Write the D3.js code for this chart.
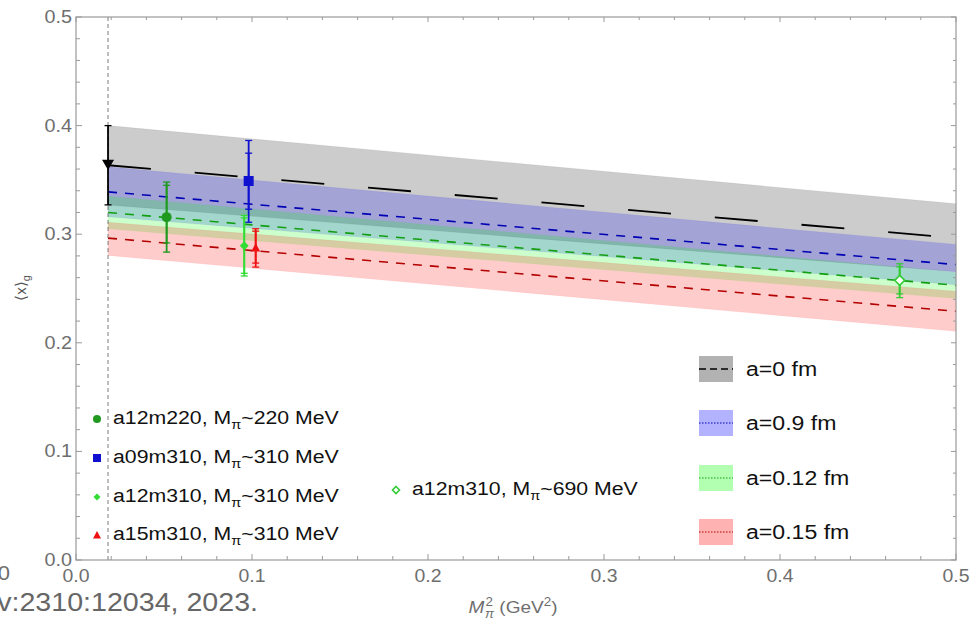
<!DOCTYPE html>
<html>
<head>
<meta charset="utf-8">
<script src="https://cdn.jsdelivr.net/npm/d3@7"></script>
<style>
  html, body { margin: 0; padding: 0; background: #fff; }
  svg { display: block; font-family: "Liberation Sans", Arial, sans-serif; }
</style>
</head>
<body>
<svg id="chart" width="970" height="620"></svg>
<script>
// ---- data ----
const bandX = [0.0182, 0.5];                       // physical pion mass^2 to right edge
const bandNames = ["a=0 fm", "a=0.9 fm", "a=0.12 fm", "a=0.15 fm"];
const bandCenter = [[0.3635, 0.2965], [0.339, 0.272], [0.320, 0.2529], [0.2964, 0.229]];
const bandLower  = [[0.327, 0.2655], [0.316, 0.2534], [0.305, 0.2407], [0.2805, 0.2106]];
const bandUpper  = [[0.400, 0.328], [0.362, 0.2906], [0.335, 0.265], [0.311, 0.2475]];
const bandFill   = ["#000000", "#0000ff", "#00ff00", "#ff0000"];
const bandLine   = ["#000000", "#0000b4", "#12a012", "#b40000"];

const physX = 0.0182, physY = 0.3635, physErr = [0.327, 0.400];

const pointNames = ["a12m220", "a09m310", "a12m310", "a15m310", "a12m310"];
const pointMass  = ["220", "310", "310", "310", "690"];
const pointX = [0.0515, 0.0981, 0.0956, 0.1021, 0.468];
const pointY = [0.3157, 0.349, 0.2894, 0.2876, 0.2575];
const errOuter = [[0.2835, 0.348], [0.311, 0.3863], [0.2615, 0.3173], [0.2697, 0.305], [0.2416, 0.2728]];
const errInner = [[0.292, 0.345], [0.323, 0.3746], [0.264, 0.315], [0.2734, 0.3028], [0.245, 0.270]];
const pointColor = ["#1f9a1f", "#1010d0", "#33dd33", "#ee1111", "#33cc33"];
const pointShape = ["circle", "square", "diamond", "triangle", "openDiamond"];

const xTicks = [0, 0.1, 0.2, 0.3, 0.4, 0.5];
const xTickLabels = ["0.0", "0.1", "0.2", "0.3", "0.4", "0.5"];
const yTicks = [0, 0.1, 0.2, 0.3, 0.4, 0.5];
const yTickLabels = ["0.0", "0.1", "0.2", "0.3", "0.4", "0.5"];

// ---- layout ----
const svg = d3.select("#chart");
const L = 76, R = 956, T = 17, B = 560;
const x = d3.scaleLinear().domain([0, 0.5]).range([L, R]);
const y = d3.scaleLinear().domain([0, 0.5]).range([B, T]);
const frameColor = "#9a9a9a", tickText = "#6e6e6e";
const WIDE = 1.12;   // text is set slightly wide

// text placed at (tx, ty) and widened horizontally about its anchor
function wideText(parent, tx, ty, sx) {
  return parent.append("text").attr("transform", `translate(${tx},${ty}) scale(${sx},1)`);
}

// bands
const area = d3.area().x(d => x(d[0])).y0(d => y(d[1])).y1(d => y(d[2]));
bandNames.forEach((n, i) => {
  const pts = bandX.map((bx, j) => [bx, bandLower[i][j], bandUpper[i][j]]);
  svg.append("path").attr("d", area(pts))
    .attr("fill", bandFill[i]).attr("fill-opacity", 0.2)
    .attr("stroke", bandFill[i]).attr("stroke-opacity", 0.06).attr("stroke-width", 1);
});

// central lines
const line = d3.line().x(d => x(d[0])).y(d => y(d[1]));
bandNames.forEach((n, i) => {
  const pts = bandX.map((bx, j) => [bx, bandCenter[i][j]]);
  svg.append("path").attr("d", line(pts)).attr("fill", "none")
    .attr("stroke", bandLine[i]).attr("stroke-width", i === 0 ? 1.8 : 1.6)
    .attr("stroke-dasharray", i === 0 ? "43,44" : "9,8");
});

// physical point vertical guide
svg.append("line").attr("x1", x(physX)).attr("x2", x(physX)).attr("y1", T).attr("y2", B)
  .attr("stroke", "#7a7a7a").attr("stroke-width", 1).attr("stroke-dasharray", "4,3");

// frame and ticks
svg.append("rect").attr("x", L).attr("y", T).attr("width", R - L).attr("height", B - T)
  .attr("fill", "none").attr("stroke", frameColor).attr("stroke-width", 1.2);

const xMinor = d3.range(0, 0.5001, 0.02);
const yMinor = d3.range(0, 0.5001, 0.02);
const tickG = svg.append("g").attr("stroke", frameColor).attr("stroke-width", 1);
xMinor.forEach(v => {
  const major = Math.abs(v * 10 - Math.round(v * 10)) < 1e-6;
  const len = major ? 6 : 4;
  tickG.append("line").attr("x1", x(v)).attr("x2", x(v)).attr("y1", B).attr("y2", B - len);
  tickG.append("line").attr("x1", x(v)).attr("x2", x(v)).attr("y1", T).attr("y2", T + len - 1);
});
yMinor.forEach(v => {
  const major = Math.abs(v * 10 - Math.round(v * 10)) < 1e-6;
  const len = major ? 6 : 4;
  tickG.append("line").attr("y1", y(v)).attr("y2", y(v)).attr("x1", L).attr("x2", L + len);
  tickG.append("line").attr("y1", y(v)).attr("y2", y(v)).attr("x1", R).attr("x2", R - len + 1);
});

// tick labels
xTicks.forEach((v, i) => {
  wideText(svg, x(v), 582, 1.08).attr("text-anchor", "middle")
    .attr("font-size", 18).attr("fill", tickText).text(xTickLabels[i]);
});
yTicks.forEach((v, i) => {
  wideText(svg, 72, y(v) + 6, 1.1).attr("text-anchor", "end")
    .attr("font-size", 18).attr("fill", tickText).text(yTickLabels[i]);
});

// axis titles
const xt = wideText(svg, 513, 613, WIDE).attr("text-anchor", "middle")
  .attr("font-size", 17).attr("fill", tickText);
xt.append("tspan").attr("font-style", "italic").text("M");
xt.append("tspan").attr("font-size", 12).attr("dy", -7).attr("dx", 1).text("2");
xt.append("tspan").attr("font-size", 12).attr("font-style", "italic").attr("dx", -7).attr("dy", 12).text("π");
xt.append("tspan").attr("dy", -5).text(" (GeV");
xt.append("tspan").attr("font-size", 12).attr("dy", -7).text("2");
xt.append("tspan").attr("dy", 7).text(")");

const yt = svg.append("text").attr("transform", "translate(26,288) rotate(-90)")
  .attr("text-anchor", "middle").attr("font-size", 15).attr("fill", "#555");
yt.append("tspan").text("⟨x⟩");
yt.append("tspan").attr("font-size", 11).attr("dy", 4).text("g");

// stray labels at the left margin
wideText(svg, 10, 580, 1.1).attr("text-anchor", "end")
  .attr("font-size", 20).attr("fill", tickText).text("0.0");
wideText(svg, 258, 611, 1.1).attr("text-anchor", "end")
  .attr("font-size", 26).attr("fill", "#666").text("arXiv:2310:12034, 2023.");

// marker drawing
function marker(g, shape, cx, cy, s, color) {
  if (shape === "circle") {
    g.append("circle").attr("cx", cx).attr("cy", cy).attr("r", s / 2).attr("fill", color);
  } else if (shape === "square") {
    g.append("rect").attr("x", cx - s / 2).attr("y", cy - s / 2).attr("width", s).attr("height", s).attr("fill", color);
  } else if (shape === "diamond" || shape === "openDiamond") {
    const h = s / 2;
    const p = g.append("path").attr("d", `M${cx},${cy - h}L${cx + h},${cy}L${cx},${cy + h}L${cx - h},${cy}Z`);
    if (shape === "diamond") p.attr("fill", color);
    else p.attr("fill", "#fff").attr("stroke", color).attr("stroke-width", 1.6);
  } else if (shape === "triangle") {
    const h = s / 2;
    g.append("path").attr("d", `M${cx},${cy - h}L${cx + h},${cy + h * 0.85}L${cx - h},${cy + h * 0.85}Z`).attr("fill", color);
  } else if (shape === "down") {
    const h = s / 2;
    g.append("path").attr("d", `M${cx - h},${cy - h * 0.9}L${cx + h},${cy - h * 0.9}L${cx},${cy + h * 0.8}Z`).attr("fill", color);
  }
}

function errbar(g, cx, lo, hi, color, cap, width) {
  g.append("line").attr("x1", cx).attr("x2", cx).attr("y1", y(lo)).attr("y2", y(hi))
    .attr("stroke", color).attr("stroke-width", width);
  [lo, hi].forEach(v => g.append("line").attr("x1", cx - cap).attr("x2", cx + cap)
    .attr("y1", y(v)).attr("y2", y(v)).attr("stroke", color).attr("stroke-width", 1.3));
}

// extrapolated physical point
const pg = svg.append("g");
errbar(pg, x(physX), physErr[0], physErr[1], "#000", 3.5, 1.8);
marker(pg, "down", x(physX), y(physY), 12, "#000");

// lattice data points
pointX.forEach((px, i) => {
  const g = svg.append("g");
  errbar(g, x(px), errOuter[i][0], errOuter[i][1], pointColor[i], 3.5, 1.8);
  errbar(g, x(px), errInner[i][0], errInner[i][1], pointColor[i], 3.5, 1.8);
  const size = { circle: 10, square: 10, diamond: 9, triangle: 9, openDiamond: 10 }[pointShape[i]];
  marker(g, pointShape[i], x(px), y(pointY[i]), size, pointColor[i]);
});

// point legend
const ptLegendPos = [[97, 418], [97, 457], [97, 496], [97, 534], [396, 489]];
pointNames.forEach((n, i) => {
  const [lx, ly] = ptLegendPos[i];
  const g = svg.append("g");
  const size = { circle: 8, square: 8, diamond: 7, triangle: 8, openDiamond: 7 }[pointShape[i]];
  marker(g, pointShape[i], lx, ly + 1, size, pointColor[i]);
  const t = wideText(g, lx + 16, ly + 6, WIDE).attr("font-size", 19).attr("fill", "#111");
  t.append("tspan").text(n + ", M");
  t.append("tspan").attr("font-size", 13).attr("dy", 5).text("π");
  t.append("tspan").attr("dy", -5).text("~" + pointMass[i] + " MeV");
});

// band legend
const bandLegendY = [369, 423, 478, 532];
bandNames.forEach((n, i) => {
  const ly = bandLegendY[i];
  const g = svg.append("g");
  g.append("rect").attr("x", 699).attr("y", ly - 13).attr("width", 34).attr("height", 26)
    .attr("fill", bandFill[i]).attr("fill-opacity", 0.3);
  g.append("line").attr("x1", 699).attr("x2", 733).attr("y1", ly).attr("y2", ly)
    .attr("stroke", bandLine[i]).attr("stroke-width", i === 0 ? 1.3 : 1.2)
    .attr("stroke-dasharray", i === 0 ? "7,4" : "1.5,1.5");
  wideText(g, 746, ly + 7, 1.1).attr("font-size", 21).attr("fill", "#111").text(n);
});
</script>
</body>
</html>
